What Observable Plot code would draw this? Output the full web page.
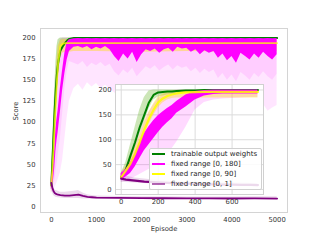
<!DOCTYPE html>
<html><head><meta charset="utf-8">
<script src="https://cdn.jsdelivr.net/npm/d3@7"></script>
<script src="https://cdn.jsdelivr.net/npm/@observablehq/plot@0.6"></script>
<style>
body{margin:0;background:#fff;}
#wrap{position:relative;width:320px;height:240px;overflow:hidden;font-family:"DejaVu Sans",sans-serif;}
#wrap svg{position:absolute;overflow:visible;}
.leg{position:absolute;left:149px;top:148px;width:113px;height:42px;background:rgba(255,255,255,0.85);border:1px solid #d0d0d0;border-radius:2px;box-sizing:border-box;font-size:7px;color:#262626;}
.row{position:absolute;left:0;height:10px;line-height:10px;width:110px;}
.sw{position:absolute;left:2px;top:4px;width:13px;height:2px;}
.tx{position:absolute;left:21px;top:0;white-space:nowrap;}
</style></head>
<body><div id="wrap"></div>
<script>
// ---------- main plot data ----------
const xTicksMain = [0, 1000, 2000, 3000, 4000, 5000];
const yTicksMain = [0, 25, 50, 75, 100, 125, 150, 175, 200];

const epGY = [0,25,50,75,100,125,150,200,250,300,350,400,500,1000,2000,3000,4000,5000];
const greenMeanMain = [25,55,85,115,140,158,170,185,190,194,197,199,200,200,200,200,200,200];
const greenLoMain   = [20,45,75,105,130,150,165,180,186,190,194,197,199,199,199,199,199,199];
const greenHiMain   = [30,70,105,140,170,190,198,200,200,200,200,200,200,200,200,200,200,200];
const yellowMeanMain = [25,45,70,100,125,150,170,190,193,194,194,194,194,194,194,194,194,194];
const yellowLoMain   = [15,30,50,75,100,125,150,175,182,183,183,183,184,184,183,184,183,184];
const yellowHiMain   = [35,60,95,125,150,175,190,197,198,198,198,198,198,198,198,198,198,198];

const epMag = [0,25,50,75,100,125,150,200,250,300,350,400,500,600,700,800,900,1000,1100,1200,1300,1400,1500,1600,1700,1800,1900,2000,2100,2200,2300,2400,2500,2600,2700,2800,2900,3000,3100,3200,3300,3400,3500,3600,3700,3800,3900,4000,4100,4200,4300,4400,4500,4600,4700,4800,4900,5000];
const magLoMain = [20,26,32,45,65,78,88,112,138,158,174,184,189,190,188,190,186,189,187,190,186,178,172,181,175,183,171,180,186,184,187,182,186,188,183,189,187,188,183,186,180,185,182,184,176,181,173,178,170,182,178,174,181,176,183,178,174,180];
const magHiMain = [30,40,50,68,92,104,114,140,162,182,195,198,199,199.5,199,199.5,199,199.5,199,199.5,199,199.5,199,199.5,199,199.5,199,199.5,199,199.5,199,199.5,199,199.5,199,199.5,199,199.5,199,199.5,199,199.5,199,199.5,199,199.5,199,199.5,199,199.5,199,199.5,199,199.5,199,199.5,199,199.5];
const magBandLoMain = [15,18,20,22,25,28,32,40,55,80,105,125,140,145,138,147,142,146,140,144,139,135,130,138,128,134,126,132,136,130,135,128,133,136,129,135,131,134,127,132,124,130,126,129,120,126,118,123,115,125,119,114,122,116,121,113,117,120];
const magBandInnerLoMain = [18,22,26,30,40,50,60,80,110,140,160,172,170,168,172,165,170,167,171,166,169,160,155,162,158,164,154,160,166,163,167,161,165,168,162,167,164,166,160,164,158,163,159,162,152,158,150,156,148,159,155,150,158,153,160,154,150,157];
const magBandHiMain = [40,60,85,115,145,170,185,198,200,200,200,200,200,200,200,200,200,200,200,200,200,200,200,200,200,200,200,200,200,200,200,200,200,200,200,200,200,200,200,200,200,200,200,200,200,200,200,200,200,200,200,200,200,200,200,200,200,200];

const epPurple = [0,25,50,75,100,150,200,300,400,500,600,700,800,900,1000,1500,2000,2500,3000,3500,4000,4500,5000];
const purpleMeanMain = [28,22,18,16,15,14,13.5,13,13,13.5,14,12.5,11.5,11,10.5,10.2,10,9.8,9.7,9.6,9.5,9.6,9.4];
const purpleLoMain   = [20,16,13,12,11,10.5,10,9.5,9.5,9.5,9.5,9,8.8,8.8,8.7,8.6,8.5,8.5,8.3,8.3,8.2,8.2,8.2];
const purpleHiMain   = [36,28,23,20,19,18,17,17,17.5,18,19,16,14,13,12.5,12,11.5,11.5,11.2,11.2,11.2,11.6,11.5];

// ---------- inset data ----------
const xTicksInset = [0, 200, 400, 600];
const yTicksInset = [0, 50, 100, 150, 200];
const epInset = [0,25,50,75,100,125,150,175,200,225,250,275,300,350,400,450,500,550,600,650,700,740];
const greenMeanIn   = [25,40,68,95,125,150,175,190,195,196,197,197,198,199,199,200,200,200,200,200,200,200];
const greenBandLoIn = [18,30,55,82,110,135,162,180,186,188,190,191,192,194,195,196,197,197,197,197,197,197];
const greenBandHiIn = [32,55,90,125,160,185,198,200,200,200,200,200,200,200,200,200,200,200,200,200,200,200];
const yellowMeanIn   = [25,38,52,72,95,120,142,160,175,183,188,191,193,195,195.5,196,196,196,196,196,196,196];
const yellowBandLoIn = [18,30,44,62,84,108,130,148,164,174,180,183,184,184,184,184,184,184,184,184,184,184];
const yellowBandHiIn = [32,47,62,84,108,134,155,172,186,192,196,198,198,199,199,199,199,199,199,199,199,199];
const magLoIn = [18,25,32,45,62,78,90,102,114,125,134,142,153,166,180,188,191,192,192,192,192,192];
const magHiIn = [32,40,54,72,94,112,126,138,148,156,163,169,177,190,197,199,200,200,200,200,200,200];
const magBandLoIn = [15,18,20,25,30,35,40,45,50,60,70,82,95,125,160,175,180,182,183,184,185,185];
const magBandHiIn = [35,45,62,85,110,135,155,170,182,190,195,198,200,200,200,200,200,200,200,200,200,200];
const purpleMeanIn = [22,20,19,18,17,16,15.5,15,14.5,14,13.5,13,12.5,12,11.5,11,10.5,10,10,9.5,9.5,9];
const purpleLoIn   = [14,14,13.5,13,12.5,12,11.5,11,10.5,10,9.8,9.5,9,8.8,8.5,8,7.8,7.5,7.5,7.2,7.2,7];
const purpleHiIn   = [32,27,25,23,22,21,20,19,18.5,18,17.5,17,16,15.5,15,14.5,14,13.5,13.5,13,12.5,12];

const seriesNames = ["trainable output weights", "fixed range [0, 180]", "fixed range [0, 90]", "fixed range [0, 1]"];
const seriesColors = ["#008000", "#ff00ff", "#ffff00", "#800080"];

function zip(ep, cols) {
  return ep.map((e, i) => { const o = {ep: e}; for (const k in cols) o[k] = cols[k][i]; return o; });
}

const gMain = zip(epGY, {m: greenMeanMain, lo: greenLoMain, hi: greenHiMain});
const yMain = zip(epGY, {m: yellowMeanMain, lo: yellowLoMain, hi: yellowHiMain});
const mMain = zip(epMag, {lo: magLoMain, hi: magHiMain, blo: magBandLoMain, bilo: magBandInnerLoMain, bhi: magBandHiMain});
const pMain = zip(epPurple, {m: purpleMeanMain, lo: purpleLoMain, hi: purpleHiMain});

const gIn = zip(epInset, {m: greenMeanIn, lo: greenBandLoIn, hi: greenBandHiIn});
const yIn = zip(epInset, {m: yellowMeanIn, lo: yellowBandLoIn, hi: yellowBandHiIn});
const mIn = zip(epInset, {lo: magLoIn, hi: magHiIn, blo: magBandLoIn, bhi: magBandHiIn});
const pIn = zip(epInset, {m: purpleMeanIn, lo: purpleLoIn, hi: purpleHiIn});

const [cG, cM, cY, cP] = seriesColors;
const font = {fontFamily: "DejaVu Sans", fontSize: "6.8px", color: "#333333", background: "transparent", overflow: "visible"};
const fmt = d3.format("d");

const main = Plot.plot({
  width: 320, height: 240,
  marginLeft: 40, marginRight: 33, marginTop: 28, marginBottom: 28,
  style: font,
  x: {domain: [-240, 5230]},
  y: {domain: [-7.1, 211.3]},
  marks: [
    Plot.areaY(mMain, {x: "ep", y1: "blo", y2: "bhi", fill: cM, fillOpacity: 0.1}),
    Plot.areaY(mMain, {x: "ep", y1: "bilo", y2: "bhi", fill: cM, fillOpacity: 0.1}),
    Plot.areaY(gMain, {x: "ep", y1: "lo", y2: "hi", fill: "#7fc04a", fillOpacity: 0.45}),
    Plot.areaY(yMain, {x: "ep", y1: "lo", y2: "hi", fill: "#ffdd00", fillOpacity: 0.4}),
    Plot.areaY(pMain, {x: "ep", y1: "lo", y2: "hi", fill: cP, fillOpacity: 0.15}),
    Plot.lineY(gMain, {x: "ep", y: "m", stroke: cG, strokeWidth: 2}),
    Plot.areaY(mMain, {x: "ep", y1: "lo", y2: "hi", fill: cM}),
    Plot.lineY(yMain, {x: "ep", y: "m", stroke: cY, strokeWidth: 1.8, strokeOpacity: 0.75}),
    Plot.lineY(pMain, {x: "ep", y: "m", stroke: cP, strokeWidth: 1.8}),
    Plot.axisX({ticks: xTicksMain, tickFormat: fmt, tickSize: 0, tickPadding: 5, label: null}),
    Plot.axisY({ticks: yTicksMain, tickFormat: fmt, tickSize: 0, tickPadding: 5, label: null}),
    Plot.text(["Score"], {frameAnchor: "left", text: d => d, rotate: -90, dx: -25, fill: "#333333"}),
    Plot.text(["Episode"], {frameAnchor: "bottom", text: d => d, dy: 18, fill: "#333333"}),
    Plot.frame({stroke: "#d4d4d4"})
  ]
});

const inset = Plot.plot({
  width: 175, height: 130,
  marginLeft: 20, marginRight: 7, marginTop: 4, marginBottom: 16,
  style: font,
  x: {domain: [-31, 770]},
  y: {domain: [-10, 211]},
  marks: [
    Plot.frame({fill: "white", stroke: "none"}),
    Plot.gridX({ticks: xTicksInset, stroke: "#dcdcdc", strokeOpacity: 1}),
    Plot.gridY({ticks: yTicksInset, stroke: "#dcdcdc", strokeOpacity: 1}),
    Plot.areaY(mIn, {x: "ep", y1: "blo", y2: "bhi", fill: cM, fillOpacity: 0.15}),
    Plot.areaY(gIn, {x: "ep", y1: "lo", y2: "hi", fill: "#7fc04a", fillOpacity: 0.4}),
    Plot.areaY(yIn, {x: "ep", y1: "lo", y2: "hi", fill: "#ffdd00", fillOpacity: 0.35}),
    Plot.areaY(pIn, {x: "ep", y1: "lo", y2: "hi", fill: cP, fillOpacity: 0.15}),
    Plot.lineY(gIn, {x: "ep", y: "m", stroke: cG, strokeWidth: 2}),
    Plot.areaY(mIn, {x: "ep", y1: "lo", y2: "hi", fill: cM}),
    Plot.lineY(yIn, {x: "ep", y: "m", stroke: cY, strokeWidth: 2.2, strokeOpacity: 0.85}),
    Plot.lineY(pIn, {x: "ep", y: "m", stroke: cP, strokeWidth: 2.2}),
    Plot.axisX({ticks: xTicksInset, tickFormat: fmt, tickSize: 0, tickPadding: 5, label: null}),
    Plot.axisY({ticks: yTicksInset, tickFormat: fmt, tickSize: 0, tickPadding: 4, label: null}),
    Plot.frame({stroke: "#d0d0d0"})
  ]
});

const wrap = document.getElementById("wrap");
main.style.left = "0px"; main.style.top = "0px";
inset.style.left = "95px"; inset.style.top = "80px";
wrap.appendChild(main);
wrap.appendChild(inset);

const leg = document.createElement("div");
leg.className = "leg";
const rowTops = [0, 10, 20, 30];
seriesNames.forEach((name, i) => {
  const row = document.createElement("div");
  row.className = "row";
  row.style.top = rowTops[i] + "px";
  const sw = document.createElement("span");
  sw.className = "sw";
  sw.style.background = seriesColors[i];
  if (i === 3) sw.style.opacity = "0.6";
  const tx = document.createElement("span");
  tx.className = "tx";
  tx.textContent = name;
  row.appendChild(sw); row.appendChild(tx);
  leg.appendChild(row);
});
wrap.appendChild(leg);
</script>
</body></html>
